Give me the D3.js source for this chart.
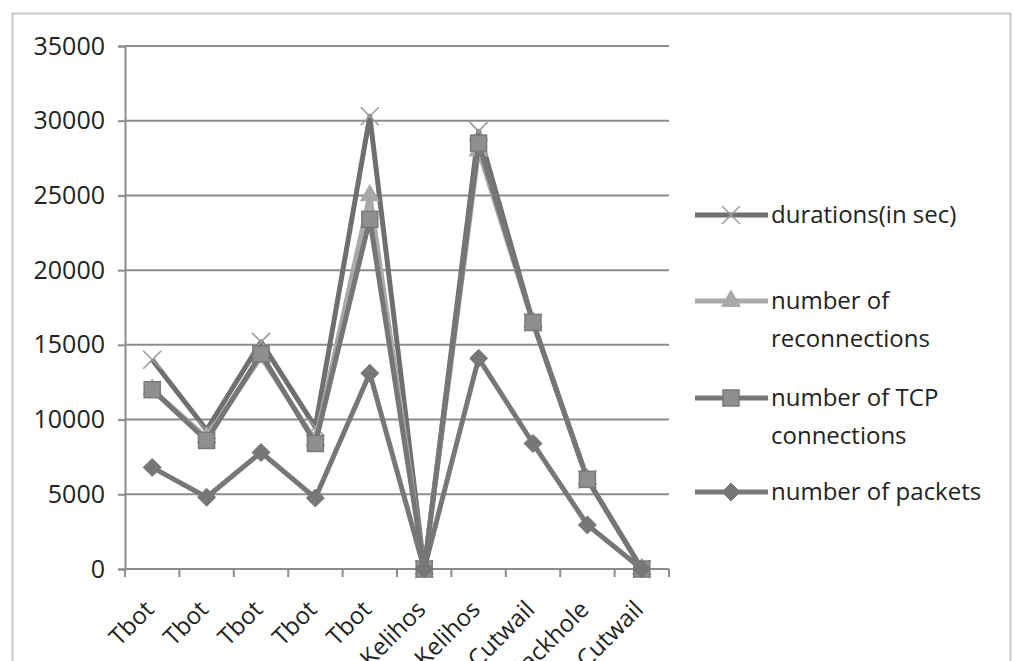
<!DOCTYPE html>
<html>
<head>
<meta charset="utf-8">
<script src="https://cdn.jsdelivr.net/npm/d3@7"></script>
<style>
  html, body { margin: 0; padding: 0; background: #fff; overflow: hidden; }
  svg { display: block; }
</style>
</head>
<body>
<svg id="chart" width="1014" height="661"></svg>
<script>
// Botnet traces, one point per capture
const categories = ["Tbot", "Tbot", "Tbot", "Tbot", "Tbot", "Kelihos", "Kelihos", "Cutwail", "Blackhole", "Cutwail"];
const durations = [14000, 9300, 15200, 9500, 30300, 0, 29300, 16500, 6000, 0];
const reconnections = [12000, 8800, 14200, 8600, 25000, 0, 28000, 16500, 6000, 0];
const tcpConnections = [12000, 8600, 14400, 8400, 23400, 0, 28500, 16500, 6000, 0];
const packets = [6800, 4800, 7800, 4750, 13100, 0, 14100, 8400, 2950, 0];
const yTicks = [0, 5000, 10000, 15000, 20000, 25000, 30000, 35000];
const seriesNames = ["durations(in sec)", "number of reconnections", "number of TCP connections", "number of packets"];
const legendLines = [["durations(in sec)"], ["number of", "reconnections"], ["number of TCP", "connections"], ["number of packets"]];

const series = [
  { name: seriesNames[0], values: durations, line: "#6f6f6f", marker: "x", mfill: "none", mstroke: "#9c9c9c" },
  { name: seriesNames[1], values: reconnections, line: "#a9a9a9", marker: "triangle", mfill: "#a9a9a9", mstroke: "#a9a9a9" },
  { name: seriesNames[2], values: tcpConnections, line: "#767676", marker: "square", mfill: "#8f8f8f", mstroke: "#7a7a7a" },
  { name: seriesNames[3], values: packets, line: "#777777", marker: "diamond", mfill: "#777777", mstroke: "#777777" }
];

const FONT = "'Open Sans', 'Liberation Sans', sans-serif";
const svg = d3.select("#chart");
const plot = { left: 125, right: 669, top: 46, bottom: 569 };

// chart area frame
svg.append("rect")
  .attr("x", 12.5).attr("y", 13.5)
  .attr("width", 998).attr("height", 700)
  .attr("fill", "none").attr("stroke", "#c9c9c9").attr("stroke-width", 2);

const x = d3.scaleBand()
  .domain(d3.range(categories.length))
  .range([plot.left, plot.right])
  .paddingInner(0).paddingOuter(0);

const y = d3.scaleLinear()
  .domain([0, 35000])
  .range([plot.bottom, plot.top]);

const cx = i => x(i) + x.bandwidth() / 2;

// horizontal gridlines
svg.append("g")
  .selectAll("line")
  .data(yTicks.filter(t => t > 0))
  .join("line")
  .attr("x1", plot.left).attr("x2", plot.right)
  .attr("y1", d => y(d)).attr("y2", d => y(d))
  .attr("stroke", "#8c8c8c").attr("stroke-width", 2);

// y axis
const yAxis = svg.append("g")
  .attr("transform", `translate(${plot.left},0)`)
  .call(d3.axisLeft(y).tickValues(yTicks).tickSize(7).tickPadding(13).tickFormat(d3.format("d")));
yAxis.select(".domain").attr("stroke", "#8c8c8c").attr("stroke-width", 2);
yAxis.selectAll(".tick line").attr("stroke", "#8c8c8c").attr("stroke-width", 2);
yAxis.selectAll(".tick text")
  .attr("fill", "#222")
  .style("font-family", FONT)
  .style("font-size", "25px");

// x axis with boundary ticks between categories
const xAxisG = svg.append("g").attr("transform", `translate(0,${plot.bottom})`);
xAxisG.append("line")
  .attr("x1", plot.left).attr("x2", plot.right)
  .attr("stroke", "#8c8c8c").attr("stroke-width", 2);
xAxisG.selectAll("line.b")
  .data(d3.range(categories.length + 1))
  .join("line")
  .attr("class", "b")
  .attr("x1", i => i < categories.length ? x(i) : plot.right)
  .attr("x2", i => i < categories.length ? x(i) : plot.right)
  .attr("y1", 0).attr("y2", 8)
  .attr("stroke", "#8c8c8c").attr("stroke-width", 2);
xAxisG.selectAll("text")
  .data(categories)
  .join("text")
  .attr("transform", (d, i) => `translate(${cx(i) + 3},${42}) rotate(-45)`)
  .attr("text-anchor", "end")
  .attr("fill", "#222")
  .style("font-family", FONT)
  .style("font-size", "24px")
  .text(d => d);

// marker shapes
function drawMarker(g, type, px, py, fill, stroke) {
  if (type === "x") {
    const s = 9;
    g.append("path")
      .attr("d", `M${px - s},${py - s}L${px + s},${py + s}M${px - s},${py + s}L${px + s},${py - s}`)
      .attr("stroke", stroke).attr("stroke-width", 1.6).attr("fill", "none");
  } else if (type === "triangle") {
    g.append("path")
      .attr("d", d3.symbol(d3.symbolTriangle, 150)())
      .attr("transform", `translate(${px},${py})`)
      .attr("fill", fill).attr("stroke", stroke);
  } else if (type === "square") {
    g.append("rect")
      .attr("x", px - 8).attr("y", py - 8).attr("width", 16).attr("height", 16)
      .attr("fill", fill).attr("stroke", stroke).attr("stroke-width", 1.5);
  } else if (type === "diamond") {
    g.append("path")
      .attr("d", `M${px},${py - 9}L${px + 9},${py}L${px},${py + 9}L${px - 9},${py}Z`)
      .attr("fill", fill).attr("stroke", stroke);
  }
}

const lineGen = d3.line().x((d, i) => cx(i)).y(d => y(d));

series.forEach(s => {
  const g = svg.append("g");
  g.append("path")
    .datum(s.values)
    .attr("d", lineGen)
    .attr("fill", "none")
    .attr("stroke", s.line)
    .attr("stroke-width", 5)
    .attr("stroke-linejoin", "round");
  s.values.forEach((v, i) => drawMarker(g, s.marker, cx(i), y(v), s.mfill, s.mstroke));
});

// legend
const legendY = [215, 301, 398, 492];
const lg = svg.append("g");
series.forEach((s, k) => {
  const ly = legendY[k];
  lg.append("line")
    .attr("x1", 695).attr("x2", 768)
    .attr("y1", ly).attr("y2", ly)
    .attr("stroke", s.line).attr("stroke-width", 5);
  drawMarker(lg, s.marker, 731, ly, s.mfill, s.mstroke);
  legendLines[k].forEach((t, j) => {
    lg.append("text")
      .attr("x", 771).attr("y", ly + 8 + j * 38)
      .attr("fill", "#222")
      .style("font-family", FONT)
      .style("font-size", "24px")
      .text(t);
  });
});
</script>
</body>
</html>
